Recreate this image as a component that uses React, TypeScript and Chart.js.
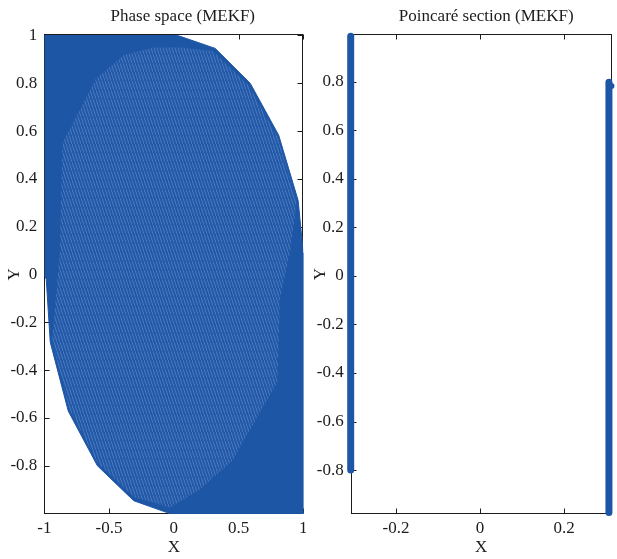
import { useEffect, useRef } from 'react';
import { Chart, registerables } from 'chart.js';

Chart.register(...registerables);

// ---- tick values ----
const phaseTicksX = [-1, -0.5, 0, 0.5, 1];
const phaseTicksY = [-0.8, -0.6, -0.4, -0.2, 0, 0.2, 0.4, 0.6, 0.8, 1];
const sectionTicksX = [-0.2, 0, 0.2];
const sectionTicksY = [-0.8, -0.6, -0.4, -0.2, 0, 0.2, 0.4, 0.6, 0.8];

// ---- phase space: outer envelope of the trajectory ----
const envelopeX = [-1, 0.03, 0.32, 0.59, 0.81, 0.96, 1, 1, -0.03, -0.31, -0.59, -0.815, -0.954, -0.985, -1];
const envelopeY = [1, 1, 0.946, 0.8, 0.583, 0.31, 0.09, -1, -1, -0.946, -0.8, -0.571, -0.283, -0.02, 0];

// ---- phase space: interior where the individual orbits are resolved ----
const coreX = [-0.86, -0.6, -0.38, -0.15, 0.05, 0.3, 0.58, 0.8, 0.95, 0.9, 0.82, 0.8, 0.62, 0.45, 0.2, -0.03, -0.31, -0.585, -0.805, -0.94, -0.88];
const coreY = [0.55, 0.82, 0.92, 0.95, 0.95, 0.935, 0.79, 0.575, 0.31, 0.1, -0.1, -0.45, -0.62, -0.78, -0.9, -0.975, -0.93, -0.79, -0.565, -0.28, 0.1];

// ---- Poincaré section: crossings stack into two columns ----
const sectionLeftX = [-0.308, -0.308];
const sectionLeftY = [-0.8, 0.987];
const sectionRightX = [0.307, 0.307];
const sectionRightY = [-0.975, 0.797];
const sectionStrayX = [0.313];
const sectionStrayY = [0.782];

const BLUE = '#1e56a6';
const INK = '#1c1c1c';
const FONT = "'Liberation Serif', 'Times New Roman', serif";

const pts = (xs: number[], ys: number[]) => xs.map((x, i) => ({ x, y: ys[i] }));

function hatchPattern(): CanvasPattern | string {
  const c = document.createElement('canvas');
  c.width = 3;
  c.height = 9;
  const g = c.getContext('2d');
  if (!g) return '#2a5eae';
  g.fillStyle = '#2258a8';
  g.fillRect(0, 0, 3, 9);
  g.strokeStyle = 'rgba(170,198,240,0.38)';
  g.lineWidth = 0.8;
  g.beginPath();
  g.moveTo(-1, -3);
  g.lineTo(4, 12);
  g.stroke();
  return g.createPattern(c, 'repeat') || '#2a5eae';
}

// box, inward tick marks (drawn under the data) and the panel title
function framePlugin(title: string, shift: number) {
  return {
    id: 'frame',
    beforeDatasetsDraw(chart: any) {
      const { ctx, chartArea: a, scales } = chart;
      const L = Math.round(a.left) + 0.5;
      const R = Math.round(a.right) - 0.5;
      const T = Math.round(a.top) + 0.5;
      const B = Math.round(a.bottom) - 0.5;
      ctx.save();
      ctx.strokeStyle = INK;
      ctx.lineWidth = 1;
      ctx.strokeRect(L, T, R - L, B - T);
      const len = 5;
      ctx.beginPath();
      scales.x.ticks.forEach((t: any) => {
        const px = Math.round(scales.x.getPixelForValue(t.value)) + 0.5;
        ctx.moveTo(px, B);
        ctx.lineTo(px, B - len);
        ctx.moveTo(px, T);
        ctx.lineTo(px, T + len);
      });
      scales.y.ticks.forEach((t: any) => {
        const py = Math.round(scales.y.getPixelForValue(t.value)) + 0.5;
        ctx.moveTo(L, py);
        ctx.lineTo(L + len, py);
        ctx.moveTo(R, py);
        ctx.lineTo(R - len, py);
      });
      ctx.stroke();
      ctx.restore();
    },
    afterDraw(chart: any) {
      const { ctx, chartArea: a } = chart;
      ctx.save();
      ctx.fillStyle = INK;
      ctx.font = `17px ${FONT}`;
      ctx.textAlign = 'center';
      ctx.textBaseline = 'middle';
      ctx.fillText(title, (a.left + a.right) / 2 + shift, 17);
      ctx.restore();
    },
  };
}

function axes(
  xr: [number, number],
  yr: [number, number],
  xt: number[],
  yt: number[],
  yWidth: number,
  xHeight: number
) {
  const font = { family: FONT, size: 17 };
  return {
    x: {
      type: 'linear',
      min: xr[0],
      max: xr[1],
      grid: { display: false, drawTicks: false },
      border: { display: false },
      afterBuildTicks: (s: any) => {
        s.ticks = xt.map((v) => ({ value: v }));
      },
      afterFit: (s: any) => {
        s.height = xHeight;
        s.paddingLeft = 0;
        s.paddingRight = 0;
      },
      ticks: { color: INK, font, padding: 4, autoSkip: false, maxRotation: 0, callback: (v: any) => String(v) },
      title: { display: true, text: 'X', color: INK, font, padding: { top: 0, bottom: 1 } },
    },
    y: {
      type: 'linear',
      min: yr[0],
      max: yr[1],
      grid: { display: false, drawTicks: false },
      border: { display: false },
      afterBuildTicks: (s: any) => {
        s.ticks = yt.map((v) => ({ value: v }));
      },
      afterFit: (s: any) => {
        s.width = yWidth;
        s.paddingTop = 0;
        s.paddingBottom = 0;
      },
      ticks: { color: INK, font, padding: 7, autoSkip: false, callback: (v: any) => String(v) },
      title: { display: true, text: 'Y', color: INK, font, padding: { top: 4, bottom: 0 } },
    },
  };
}

function PhasePanel() {
  const ref = useRef<HTMLCanvasElement>(null);
  useEffect(() => {
    if (!ref.current) return;
    const chart = new Chart(ref.current, {
      type: 'line',
      data: {
        datasets: [
          {
            data: pts(coreX, coreY),
            borderColor: 'rgba(0,0,0,0)',
            backgroundColor: hatchPattern(),
            borderWidth: 0,
            fill: 'shape',
            pointRadius: 0,
            tension: 0,
          },
          {
            data: pts(envelopeX, envelopeY),
            borderColor: BLUE,
            backgroundColor: BLUE,
            borderWidth: 1,
            fill: 'shape',
            pointRadius: 0,
            tension: 0,
          },
        ],
      } as any,
      options: {
        animation: false,
        responsive: false,
        events: [],
        layout: { padding: { top: 34.3, right: 2.7, left: 0, bottom: 0 } },
        plugins: { legend: { display: false }, tooltip: { enabled: false } },
        scales: axes([-1, 1], [-1.003, 1.005], phaseTicksX, phaseTicksY, 44.3, 44.7) as any,
      },
      plugins: [framePlugin('Phase space (MEKF)', 9)],
    });
    return () => chart.destroy();
  }, []);
  return <canvas ref={ref} width={306} height={559} style={{ position: 'absolute', left: 0, top: 0 }} />;
}

function SectionPanel() {
  const ref = useRef<HTMLCanvasElement>(null);
  useEffect(() => {
    if (!ref.current) return;
    const column = {
      borderColor: BLUE,
      backgroundColor: BLUE,
      borderWidth: 7,
      borderCapStyle: 'round',
      pointRadius: 0,
      fill: false,
      tension: 0,
      clip: 8,
    };
    const chart = new Chart(ref.current, {
      type: 'line',
      data: {
        datasets: [
          { ...column, data: pts(sectionLeftX, sectionLeftY) },
          { ...column, data: pts(sectionRightX, sectionRightY) },
          {
            data: pts(sectionStrayX, sectionStrayY),
            showLine: false,
            pointRadius: 3,
            pointBorderWidth: 0,
            pointBackgroundColor: BLUE,
            clip: 8,
          },
        ],
      } as any,
      options: {
        animation: false,
        responsive: false,
        events: [],
        layout: { padding: { top: 34.3, right: 5.3, left: 0, bottom: 0 } },
        plugins: { legend: { display: false }, tooltip: { enabled: false } },
        scales: axes([-0.308, 0.3136], [-0.981, 0.995], sectionTicksX, sectionTicksY, 44.7, 45) as any,
      },
      plugins: [framePlugin('Poincaré section (MEKF)', 5)],
    });
    return () => chart.destroy();
  }, []);
  return <canvas ref={ref} width={311} height={559} style={{ position: 'absolute', left: 306, top: 0 }} />;
}

export default function App() {
  return (
    <div style={{ position: 'absolute', left: 0, top: 0, width: 617, height: 559, background: '#fff' }}>
      <PhasePanel />
      <SectionPanel />
    </div>
  );
}
